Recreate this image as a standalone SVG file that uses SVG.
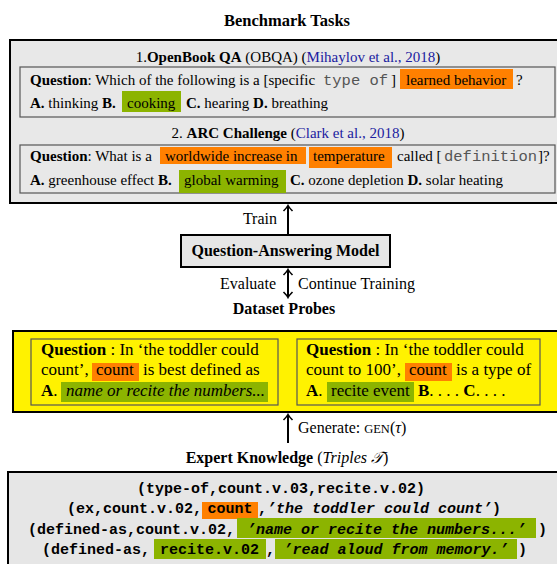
<svg xmlns="http://www.w3.org/2000/svg" width="557" height="564" viewBox="0 0 557 564">
<style>
text { font-family: "Liberation Serif", "Times New Roman", serif; fill: #000; }
.t15 { font-size: 15px; }
.t16 { font-size: 16px; }
.t17 { font-size: 17px; }
.b { font-weight: bold; }
.i { font-style: italic; }
.cite { fill: #2020a0; }
.tt { font-family: "Liberation Mono", "Courier New", monospace; fill: #555; }
.mono { font-family: "Liberation Mono", "Courier New", monospace; font-size: 15px; font-weight: bold; }
.mi { font-style: italic; }
.or { fill: #ff8000; }
.gr { fill: #8cb400; }
.inner { fill: none; stroke: #555; stroke-width: 1.2; }
.outer { stroke: #000; stroke-width: 2; }
.conn { stroke: #000; stroke-width: 2; fill: none; }
</style>
<defs>
<marker id="ah" viewBox="-6 -6 8 12" markerWidth="8" markerHeight="12" refX="0" refY="0" orient="auto-start-reverse" markerUnits="userSpaceOnUse">
<path d="M -5 -4.5 Q -1.5 -1 0.5 0 Q -1.5 1 -5 4.5" fill="none" stroke="#000" stroke-width="1.6"/>
</marker>
</defs>

<text class="t16 b" x="287" y="26" text-anchor="middle" style="font-size:16.5px">Benchmark Tasks</text>

<g id="benchmark-tasks">
<rect class="outer" x="10" y="40" width="560" height="163" fill="#e8e8e8"/>
<g id="obqa">
<text class="t15" x="288" y="62" text-anchor="middle">1.<tspan class="b">OpenBook QA</tspan> (OBQA) (<tspan class="cite">Mihaylov et al., 2018</tspan>)</text>
<rect class="inner" x="20" y="67" width="535" height="50"/>
<rect class="or" x="400" y="69" width="113" height="20"/>
<text class="t15" y="85"><tspan x="30" class="b">Question</tspan>: Which of the following is a [specific <tspan x="323" class="tt" style="font-size:15.5px">type of</tspan><tspan x="391">]</tspan><tspan x="406">learned behavior</tspan><tspan x="516">?</tspan></text>
<rect class="gr" x="122" y="91" width="59" height="21"/>
<text class="t15" y="108"><tspan x="30" class="b">A.</tspan> thinking <tspan class="b">B.</tspan><tspan x="127">cooking</tspan><tspan x="186" class="b">C.</tspan> hearing <tspan class="b">D.</tspan> breathing</text>
</g>
<g id="arc">
<text class="t15" x="288" y="138" text-anchor="middle">2. <tspan class="b">ARC Challenge</tspan> (<tspan class="cite">Clark et al., 2018</tspan>)</text>
<rect class="inner" x="20" y="145" width="535" height="48"/>
<rect class="or" x="160" y="147" width="146" height="17"/>
<rect class="or" x="309" y="147" width="83" height="21"/>
<text class="t15" y="161"><tspan x="30" class="b">Question</tspan>: What is a <tspan x="165">worldwide increase in</tspan><tspan x="313">temperature</tspan><tspan x="397">called [</tspan><tspan x="444" class="tt" style="font-size:15.5px">definition</tspan><tspan x="538">]?</tspan></text>
<rect class="gr" x="179" y="170" width="107" height="23"/>
<text class="t15" y="185"><tspan x="30" class="b">A.</tspan> greenhouse effect <tspan class="b">B.</tspan><tspan x="184">global warming</tspan><tspan x="290" class="b">C.</tspan> ozone depletion <tspan class="b">D.</tspan> solar heating</text>
</g>
</g>

<g id="connectors">
<line class="conn" x1="288" y1="235" x2="288" y2="206" marker-end="url(#ah)"/>
<line class="conn" x1="288" y1="270" x2="288" y2="297" marker-start="url(#ah)" marker-end="url(#ah)"/>
<line class="conn" x1="288" y1="443" x2="288" y2="415" marker-end="url(#ah)"/>
</g>

<text class="t16" x="277" y="224" text-anchor="end">Train</text>

<g id="qa-model">
<rect class="outer" x="181" y="235" width="209" height="32" fill="#e6e6e6"/>
<text class="t16 b" x="285.5" y="256" text-anchor="middle">Question-Answering Model</text>
</g>

<text class="t16" x="276" y="289" text-anchor="end">Evaluate</text>
<text class="t16" x="298" y="289">Continue Training</text>
<text class="t16 b" x="284" y="314" text-anchor="middle">Dataset Probes</text>

<g id="dataset-probes">
<rect class="outer" x="13" y="331" width="560" height="81" fill="#fff200"/>
<g id="probe-1">
<rect class="inner" x="31" y="339" width="247" height="66"/>
<text class="t17" x="41" y="355"><tspan class="b">Question</tspan> : In ‘the toddler could</text>
<rect class="or" x="92" y="363" width="47" height="18"/>
<text class="t17" y="375"><tspan x="41">count’,</tspan><tspan x="96">count</tspan><tspan x="143">is best defined as</tspan></text>
<rect class="gr" x="61" y="382" width="207" height="20"/>
<text class="t17" y="396"><tspan x="41" class="b">A</tspan>.<tspan x="66" class="i">name or recite the numbers...</tspan></text>
</g>
<g id="probe-2">
<rect class="inner" x="297" y="339" width="243" height="66"/>
<text class="t17" x="306" y="355"><tspan class="b">Question</tspan> : In ‘the toddler could</text>
<rect class="or" x="405" y="363" width="47" height="18"/>
<text class="t17" y="375"><tspan x="306">count to 100’,</tspan><tspan x="409">count</tspan><tspan x="456">is a type of</tspan></text>
<rect class="gr" x="327" y="382" width="87" height="20"/>
<text class="t17" y="396"><tspan x="306" class="b">A</tspan>.<tspan x="331">recite event</tspan><tspan x="418" class="b">B</tspan>. . . . <tspan class="b">C</tspan>. . . .</text>
</g>
</g>

<text class="t16" x="298" y="433">Generate: <tspan style="font-size:12.5px">GEN</tspan>(<tspan class="i">τ</tspan>)</text>
<text class="t16" x="287" y="463" text-anchor="middle"><tspan class="b">Expert Knowledge</tspan> (<tspan class="i">Triples 𝒯</tspan>)</text>

<g id="expert-knowledge">
<rect class="outer" x="8" y="472" width="560" height="100" fill="#e6e6e6"/>
<text class="mono" x="137" y="493">(type-of,count.v.03,recite.v.02)</text>
<rect class="or" x="202" y="502" width="56" height="17"/>
<text class="mono" y="513"><tspan x="67">(ex,count.v.02,</tspan><tspan x="207.5">count</tspan><tspan x="258">,</tspan><tspan class="mi">’the toddler could count’</tspan>)</text>
<rect class="gr" x="237" y="518" width="299" height="20"/>
<text class="mono" y="534"><tspan x="28">(defined-as,count.v.02,</tspan><tspan x="247" class="mi">’name or recite the numbers...’</tspan><tspan x="538">)</tspan></text>
<rect class="gr" x="154" y="539" width="112" height="20"/>
<rect class="gr" x="275" y="539" width="242" height="20"/>
<text class="mono" y="554"><tspan x="42">(defined-as,</tspan><tspan x="160">recite.v.02</tspan><tspan x="266">,</tspan><tspan x="283.5" class="mi">’read aloud from memory.’</tspan><tspan x="518">)</tspan></text>
</g>
</svg>
